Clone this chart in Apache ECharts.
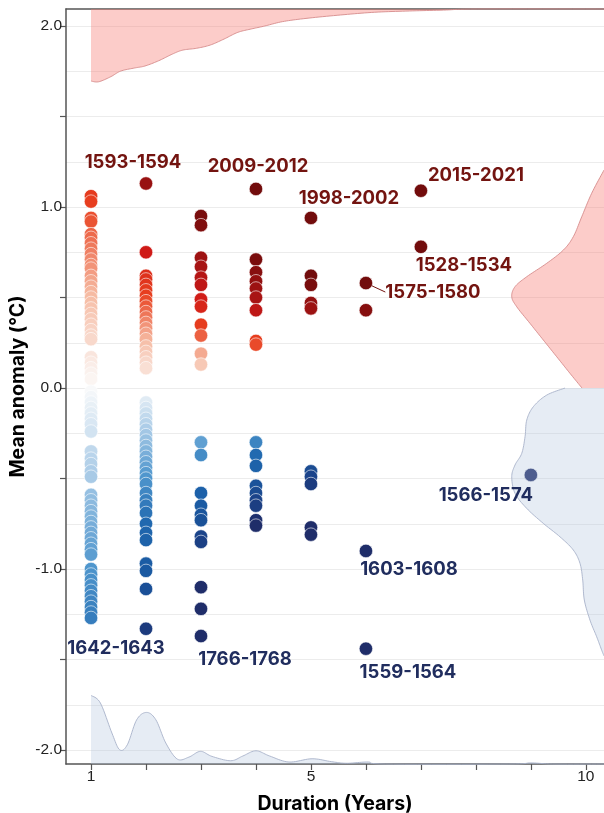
<!DOCTYPE html>
<html>
<head>
<meta charset="utf-8">
<script src="https://cdn.jsdelivr.net/npm/echarts@6/dist/echarts.min.js"></script>
<style>
  html, body { margin: 0; padding: 0; background: #ffffff; }
  #chart { width: 604px; height: 813px; }
</style>
</head>
<body>
<div id="chart"></div>
<script>
// Mean temperature anomaly (°C) of each warm / cold event, grouped by event duration (years)
const anomalies1yr = [1.06, 1.03, 0.94, 0.92, 0.85, 0.83, 0.80, 0.77, 0.74, 0.71, 0.68, 0.66, 0.62, 0.59, 0.56, 0.53,
  0.50, 0.47, 0.44, 0.41, 0.38, 0.35, 0.32, 0.29, 0.27, 0.17, 0.14, 0.11, 0.08, 0.05,
  -0.02, -0.05, -0.08, -0.11, -0.14, -0.17, -0.20, -0.24, -0.35, -0.39, -0.42, -0.46, -0.49,
  -0.59, -0.62, -0.65, -0.68, -0.71, -0.74, -0.77, -0.80, -0.83, -0.86, -0.89, -0.92,
  -1.00, -1.03, -1.06, -1.09, -1.12, -1.15, -1.18, -1.21, -1.24, -1.27];
const anomalies2yr = [0.75, 0.62, 0.60, 0.57, 0.54, 0.51, 0.48, 0.45, 0.42, 0.39, 0.36, 0.33, 0.30, 0.27, 0.23,
  0.20, 0.17, 0.14, 0.11,
  -0.08, -0.11, -0.14, -0.17, -0.20, -0.23, -0.26, -0.29, -0.32, -0.35, -0.38, -0.41, -0.44, -0.47,
  -0.50, -0.53, -0.58, -0.62, -0.65, -0.69, -0.75, -0.80, -0.84, -0.97, -1.01, -1.11];
const anomalies3yr = [0.95, 0.90, 0.72, 0.67, 0.61, 0.57, 0.49, 0.45, 0.35, 0.29, 0.19, 0.13,
  -0.30, -0.37, -0.58, -0.65, -0.70, -0.73, -0.82, -0.85, -1.10, -1.22];
const anomalies4yr = [0.71, 0.64, 0.59, 0.55, 0.50, 0.43, 0.26, 0.24,
  -0.30, -0.37, -0.43, -0.54, -0.58, -0.62, -0.65, -0.73, -0.76];
const anomalies5yr = [0.62, 0.57, 0.47, 0.44, -0.46, -0.49, -0.53, -0.77, -0.81];
const anomalies6yr = [0.43];

// Named events
const eventNames = ['1593-1594', '2009-2012', '1998-2002', '2015-2021', '1528-1534', '1575-1580',
  '1566-1574', '1603-1608', '1559-1564', '1766-1768', '1642-1643'];
const eventDurations = [2, 4, 5, 7, 7, 6, 9, 6, 6, 3, 2];
const eventAnomalies = [1.13, 1.10, 0.94, 1.09, 0.78, 0.58, -0.48, -0.90, -1.44, -1.37, -1.33];

// Marginal densities: [duration, thickness] and [anomaly, thickness]
const warmDurationDensity = [[1.0, 0.398], [1.14, 0.402], [1.36, 0.374], [1.54, 0.343], [1.79, 0.326],
  [1.98, 0.315], [2.23, 0.286], [2.48, 0.249], [2.67, 0.227], [2.92, 0.217], [3.17, 0.199],
  [3.42, 0.166], [3.67, 0.129], [3.92, 0.110], [4.16, 0.094], [4.48, 0.070], [4.91, 0.052],
  [5.54, 0.033], [6.16, 0.018], [6.79, 0.011], [7.41, 0.006], [8.03, 0.0], [10.33, 0.0]];
const coldDurationDensity = [[1.0, 0.379], [1.17, 0.337], [1.38, 0.171], [1.52, 0.079], [1.66, 0.106],
  [1.83, 0.244], [2.01, 0.285], [2.18, 0.244], [2.36, 0.116], [2.57, 0.027], [2.78, 0.038],
  [2.99, 0.070], [3.20, 0.042], [3.54, 0.018], [3.76, 0.044], [4.00, 0.073], [4.25, 0.044],
  [4.60, 0.011], [5.02, 0.029], [5.37, 0.013], [5.65, 0.004], [6.04, 0.011], [6.35, 0.0],
  [8.6, 0.0], [9.0, 0.006], [9.4, 0.0], [10.33, 0.0]];
const warmAnomalyDensity = [[1.204, 0.0], [1.076, 0.224], [0.946, 0.405], [0.836, 0.558], [0.762, 0.740],
  [0.689, 1.042], [0.615, 1.405], [0.560, 1.618], [0.504, 1.678], [0.449, 1.587], [0.357, 1.345],
  [0.265, 1.103], [0.173, 0.860], [0.081, 0.618], [0.0, 0.40]];
const coldAnomalyDensity = [[0.0, 0.709], [-0.039, 1.042], [-0.103, 1.285], [-0.177, 1.405], [-0.269, 1.436],
  [-0.361, 1.496], [-0.425, 1.618], [-0.490, 1.678], [-0.582, 1.618], [-0.665, 1.405], [-0.748, 1.103],
  [-0.822, 0.800], [-0.895, 0.558], [-0.969, 0.436], [-1.061, 0.387], [-1.171, 0.358], [-1.282, 0.255],
  [-1.374, 0.133], [-1.448, 0.042], [-1.48, 0.0]];

// Axis extents and ticks
const xMin = 0.545, xMax = 10.33;
const yMin = -2.077, yMax = 2.094;
const durationTicks = [1, 2, 3, 4, 5, 6, 7, 8, 9, 10];
const durationLabels = [1, 5, 10];
const anomalyTicks = [-2, -1.5, -1, -0.5, 0, 0.5, 1, 1.5, 2];
const anomalyLabels = [-2, -1, 0, 1, 2];
const anomalyGrid = [-2, -1.75, -1.5, -1.25, -1, -0.75, -0.5, -0.25, 0, 0.25, 0.5, 0.75, 1, 1.25, 1.5, 1.75, 2];

// ---- styling ----
const FONT = 'Inter, "Liberation Sans", Arial, sans-serif';
const TICK_FONT = '"Liberation Sans", Arial, sans-serif';
const WARM_TEXT = '#731410';
const COLD_TEXT = '#202d5e';
// label centre offsets (px) from each event point
const labelOffsets = [[-13, -21], [2, -22], [38, -19], [55, -15], [43, 19], [67, 9],
  [-45, 21], [43, 18], [42, 24], [44, 23], [-30, 20]];
// cumulative anomaly (duration x anomaly) colour ramp from -3 to 3
const rampColors = ['#1f2d69', '#1b4288', '#1a5aa2', '#2068af', '#4f96cd', '#a6c9e6', '#fbfbfb',
  '#f6bba3', '#e8401f', '#cf1a17', '#a81414', '#8a0f0f', '#720c0c'];

function point(d, a) {
  const c = Math.max(-3, Math.min(3, d * a));
  return [d, a, c];
}
const pointData = [];
[[1, anomalies1yr], [2, anomalies2yr], [3, anomalies3yr], [4, anomalies4yr], [5, anomalies5yr], [6, anomalies6yr]]
  .forEach(([d, arr]) => arr.forEach(a => pointData.push(point(d, a))));
eventDurations.forEach((d, i) => pointData.push(point(d, eventAnomalies[i])));

const labelData = eventNames.map((name, i) => ({
  value: [eventDurations[i], eventAnomalies[i]],
  name: name,
  label: { color: eventAnomalies[i] > 0 ? WARM_TEXT : COLD_TEXT },
  labelLine: name === '1575-1580' ? { show: true, lineStyle: { color: WARM_TEXT, width: 1 } } : { show: false }
}));

// Catmull-Rom pass through pixel points for a smooth outline
function smoothPath(pts) {
  const out = [];
  const n = pts.length;
  for (let i = 0; i < n - 1; i++) {
    const p0 = pts[i - 1] || pts[i], p1 = pts[i], p2 = pts[i + 1], p3 = pts[i + 2] || pts[i + 1];
    const steps = 10;
    for (let s = 0; s < steps; s++) {
      const t = s / steps, t2 = t * t, t3 = t2 * t;
      out.push([0, 1].map(k => 0.5 * ((2 * p1[k]) + (-p0[k] + p2[k]) * t +
        (2 * p0[k] - 5 * p1[k] + 4 * p2[k] - p3[k]) * t2 + (-p0[k] + 3 * p1[k] - 3 * p2[k] + p3[k]) * t3)));
    }
  }
  out.push(pts[n - 1]);
  return out;
}

function densityShape(curve, base0, base1, fill, stroke) {
  const smooth = smoothPath(curve);
  return {
    type: 'group',
    children: [
      { type: 'polygon', shape: { points: [base0].concat(smooth, [base1]) }, style: { fill: fill, stroke: null } },
      { type: 'polyline', shape: { points: smooth }, style: { fill: null, stroke: stroke, lineWidth: 1 } }
    ]
  };
}
const WARM_FILL = 'rgba(246,120,112,0.38)', WARM_LINE = 'rgba(214,140,140,0.9)';
const COLD_FILL = 'rgba(176,196,222,0.32)', COLD_LINE = 'rgba(168,178,202,0.9)';

function renderDensities(params, api) {
  const top = warmDurationDensity.map(([d, t]) => api.coord([d, yMax - t]));
  const bottom = coldDurationDensity.map(([d, t]) => api.coord([d, yMin + t]));
  const right = warmAnomalyDensity.map(([a, t]) => api.coord([xMax - t, a]));
  const rightCold = coldAnomalyDensity.map(([a, t]) => api.coord([xMax - t, a]));
  const first = (arr) => arr[0], last = (arr) => arr[arr.length - 1];
  return {
    type: 'group',
    children: [
      densityShape(top, api.coord([first(warmDurationDensity)[0], yMax]), api.coord([last(warmDurationDensity)[0], yMax]), WARM_FILL, WARM_LINE),
      densityShape(bottom, api.coord([first(coldDurationDensity)[0], yMin]), api.coord([last(coldDurationDensity)[0], yMin]), COLD_FILL, COLD_LINE),
      densityShape(right, api.coord([xMax, first(warmAnomalyDensity)[0]]), api.coord([xMax, last(warmAnomalyDensity)[0]]), WARM_FILL, WARM_LINE),
      densityShape(rightCold, api.coord([xMax, first(coldAnomalyDensity)[0]]), api.coord([xMax, last(coldAnomalyDensity)[0]]), COLD_FILL, COLD_LINE)
    ]
  };
}

const axisLineStyle = { color: '#555555', width: 1.5 };
const chart = echarts.init(document.getElementById('chart'), null, { renderer: 'canvas' });
chart.setOption({
  animation: false,
  backgroundColor: '#ffffff',
  grid: { left: 66, right: 0, top: 9, bottom: 49, containLabel: false, outerBoundsMode: 'none' },
  xAxis: [{
    type: 'value', min: xMin, max: xMax, position: 'bottom',
    axisLine: { show: true, onZero: false, lineStyle: axisLineStyle },
    axisTick: { show: true, length: 6, customValues: durationTicks, lineStyle: { color: '#555555', width: 1.2 } },
    axisLabel: { customValues: durationLabels, color: '#222222', fontSize: 15.5, margin: 5, fontFamily: TICK_FONT },
    splitLine: { show: false },
    name: 'Duration (Years)', nameLocation: 'middle', nameGap: 30, nameMoveOverlap: false,
    nameTextStyle: { fontWeight: 'bold', fontSize: 19.5, color: '#000000', fontFamily: FONT }
  }, {
    type: 'value', min: xMin, max: xMax, position: 'top',
    axisLine: { show: true, onZero: false, lineStyle: axisLineStyle },
    axisTick: { show: false }, axisLabel: { show: false }, splitLine: { show: false }
  }],
  yAxis: {
    type: 'value', min: yMin, max: yMax,
    axisLine: { show: true, onZero: false, lineStyle: axisLineStyle },
    axisTick: { show: true, length: 6, customValues: anomalyTicks, lineStyle: { color: '#555555', width: 1.2 } },
    axisLabel: { customValues: anomalyLabels, formatter: v => v.toFixed(1), color: '#222222', fontSize: 15.5, margin: 4, fontFamily: TICK_FONT },
    splitLine: { show: false },
    name: 'Mean anomaly (°C)', nameLocation: 'middle', nameGap: 38, nameRotate: 90, nameMoveOverlap: false,
    nameTextStyle: { fontWeight: 'bold', fontSize: 19.5, color: '#000000', fontFamily: FONT }
  },
  visualMap: {
    type: 'continuous', show: false, dimension: 2, seriesIndex: 1,
    min: -3, max: 3, inRange: { color: rampColors }
  },
  series: [
    {
      type: 'line', data: [], z: 0, silent: true,
      markLine: {
        silent: true, z: 0, symbol: ['none', 'none'], label: { show: false },
        lineStyle: { color: '#ececec', width: 1, type: 'solid' },
        data: anomalyGrid.map(v => ({ yAxis: v }))
      }
    },
    {
      type: 'scatter', data: pointData, z: 2, symbolSize: 13.5,
      itemStyle: { borderColor: '#ffffff', borderWidth: 0.6, opacity: 1 }
    },
    {
      type: 'custom', coordinateSystem: 'cartesian2d', data: [[xMin, yMin]], z: 3, silent: true,
      renderItem: renderDensities
    },
    {
      type: 'scatter', data: labelData, z: 10, symbolSize: 13.5, silent: true,
      itemStyle: { color: 'rgba(0,0,0,0)' },
      label: {
        show: true, position: 'top', formatter: p => p.name, opacity: 1,
        textBorderWidth: 0, textShadowBlur: 0,
        fontFamily: FONT, fontWeight: 'bold', fontSize: 18.5
      },
      labelLayout: p => {
        const o = labelOffsets[p.dataIndex];
        return { x: p.rect.x + p.rect.width / 2 + o[0], y: p.rect.y + p.rect.height / 2 + o[1], align: 'center', verticalAlign: 'middle' };
      }
    }
  ]
});
</script>
</body>
</html>
